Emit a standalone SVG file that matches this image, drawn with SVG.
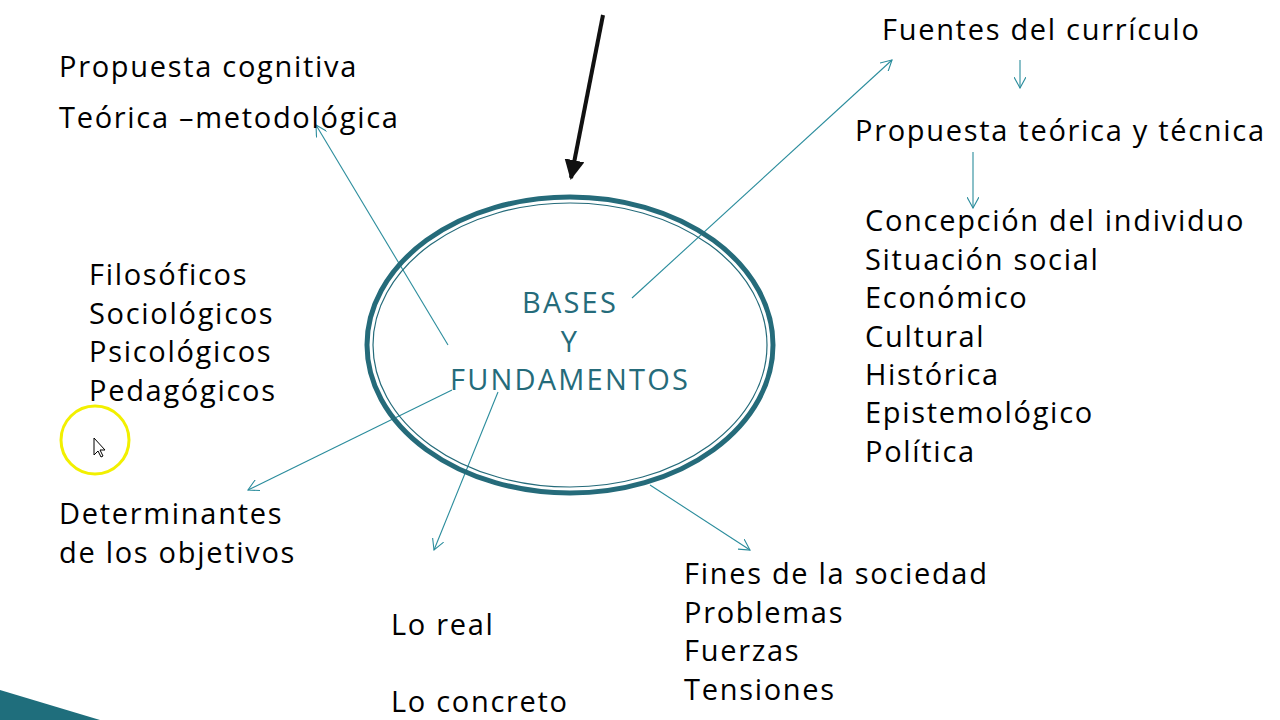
<svg xmlns="http://www.w3.org/2000/svg" width="1280" height="720" viewBox="0 0 1280 720">
<defs>
<style>
.t{font-family:"Open Sans","Noto Sans",sans-serif;font-size:29px;fill:#000;letter-spacing:1.7px}
.c{stroke:#2a8c9c;stroke-width:1.1;fill:none;marker-end:url(#a)}
.m{font-family:"Open Sans","Noto Sans",sans-serif;font-size:29px;fill:#256b7a;text-anchor:middle;letter-spacing:2.2px;font-weight:500}
</style>
<marker id="a" viewBox="0 0 12 12" refX="11" refY="6" markerWidth="12" markerHeight="12" markerUnits="userSpaceOnUse" orient="auto">
<path d="M0,0 L11,6 L0,12" fill="none" stroke="#2a8c9c" stroke-width="1.1"/>
</marker>
<marker id="b" viewBox="0 0 10 10" refX="9" refY="5" markerWidth="5" markerHeight="5" orient="auto">
<path d="M0,0 L10,5 L0,10 z" fill="#111"/>
</marker>
</defs>
<rect width="1280" height="720" fill="#fff"/>
<polygon points="0,690 100,720 0,720" fill="#1f6e7c"/>
<g id="connectors">
<line class="c" x1="448" y1="345" x2="316" y2="125"/>
<line class="c" x1="632" y1="298" x2="892" y2="60"/>
<line class="c" x1="452" y1="390" x2="248" y2="490"/>
<line class="c" x1="498" y1="392" x2="434" y2="550"/>
<line class="c" x1="650" y1="485" x2="750" y2="550"/>
<line class="c" x1="1020" y1="60" x2="1020" y2="88"/>
<line class="c" x1="973" y1="152" x2="973" y2="208"/>
<line x1="603" y1="15" x2="571" y2="178" stroke="#111" stroke-width="4" marker-end="url(#b)"/>
</g>
<g id="center">
<ellipse cx="570" cy="345" rx="203" ry="148" fill="none" stroke="#256b7a" stroke-width="5"/>
<ellipse cx="570" cy="345" rx="197" ry="142" fill="none" stroke="#256b7a" stroke-width="1.2"/>
<text class="m" x="570" y="313">BASES</text>
<text class="m" x="570" y="352">Y</text>
<text class="m" x="570" y="390">FUNDAMENTOS</text>
</g>
<g id="n-propuesta"><text class="t" x="59" y="77">Propuesta cognitiva</text><text class="t" x="59" y="128">Teórica –metodológica</text></g>
<g id="n-fuentes"><text class="t" x="882" y="40">Fuentes del currículo</text></g>
<g id="n-propteor"><text class="t" x="855" y="141">Propuesta teórica y técnica</text></g>
<g id="n-concepcion">
<text class="t" x="865" y="231">Concepción del individuo</text>
<text class="t" x="865" y="270">Situación social</text>
<text class="t" x="865" y="308">Económico</text>
<text class="t" x="865" y="347">Cultural</text>
<text class="t" x="865" y="385">Histórica</text>
<text class="t" x="865" y="423">Epistemológico</text>
<text class="t" x="865" y="462">Política</text>
</g>
<g id="n-filos">
<text class="t" x="89" y="285">Filosóficos</text>
<text class="t" x="89" y="324">Sociológicos</text>
<text class="t" x="89" y="362">Psicológicos</text>
<text class="t" x="89" y="401">Pedagógicos</text>
</g>
<g id="n-determ"><text class="t" x="59" y="524">Determinantes</text><text class="t" x="59" y="563">de los objetivos</text></g>
<g id="n-real"><text class="t" x="391" y="635">Lo real</text><text class="t" x="391" y="712">Lo concreto</text></g>
<g id="n-fines">
<text class="t" x="684" y="584">Fines de la sociedad</text>
<text class="t" x="684" y="623">Problemas</text>
<text class="t" x="684" y="661">Fuerzas</text>
<text class="t" x="684" y="700">Tensiones</text>
</g>
<g id="cursor">
<circle cx="95" cy="440" r="34" fill="none" stroke="#f2f000" stroke-width="3"/>
<path d="M94,438 L94,455 L98,451 L101,457 L103,456 L100,450 L105,450 Z" fill="#fff" stroke="#000" stroke-width="1"/>
</g>
</svg>
